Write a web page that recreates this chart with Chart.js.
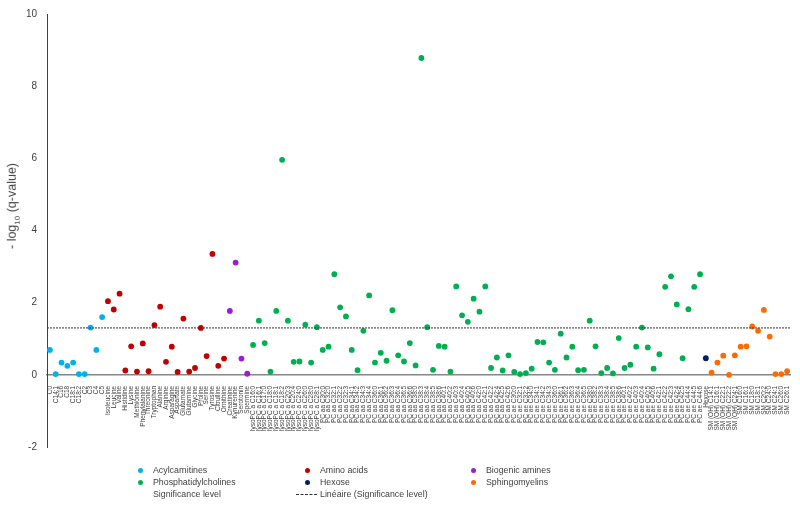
<!DOCTYPE html>
<html>
<head>
<meta charset="utf-8">
<script src="https://cdn.jsdelivr.net/npm/chart.js@4.4.1/dist/chart.umd.min.js"></script>
<style>
  html, body { margin: 0; padding: 0; background: #fff; }
  #wrap { position: relative; width: 800px; height: 509px; font-family: "Liberation Sans", Arial, sans-serif; color: #404040; }
  #chart { position: absolute; left: 0; top: 0; }
  .ytitle { position: absolute; left: 13px; top: 206px; transform: translate(-50%, -50%) rotate(-90deg); font-size: 12.5px; white-space: nowrap; }
  .ytitle sub { font-size: 8px; }
  .lg { position: absolute; font-size: 8.8px; line-height: 12px; white-space: nowrap; }
  .dot { position: absolute; width: 5px; height: 5px; border-radius: 50%; }
  .dash { position: absolute; width: 21px; border-top: 1px dashed #333; }
</style>
</head>
<body>
<div id="wrap">
  <canvas id="chart" width="800" height="509"></canvas>
  <div class="ytitle">- log<sub>10</sub> (q-value)</div>
  <div id="legend"></div>
</div>
<script>
// metabolite names per class (x categories)
const acylLabels = ['C0', 'C14:1', 'C16', 'C18', 'C18:1', 'C18:2', 'C2', 'C3', 'C4', 'C5'];
const aminoLabels = ['Isoleucine', 'Leucine', 'Valine', 'Histidine', 'Lysine', 'Methionine', 'Phenylalanine',
    'Threonine', 'Tryptophan', 'Alanine', 'Arginine', 'Asparagine', 'Aspartate', 'Glutamate', 'Glutamine',
    'Glycine', 'Proline', 'Serine', 'Tyrosine', 'Citrulline', 'Ornithine'];
const amineLabels = ['Creatinine', 'Kynurenine', 'Serotonin', 'Spermine'];
const pcLabels = [
    'lysoPC a C16:0', 'lysoPC a C16:1', 'lysoPC a C17:0', 'lysoPC a C18:0', 'lysoPC a C18:1', 'lysoPC a C18:2',
    'lysoPC a C20:3', 'lysoPC a C20:4', 'lysoPC a C24:0', 'lysoPC a C26:0', 'lysoPC a C28:0', 'lysoPC a C28:1',
    'PC aa C30:0', 'PC aa C32:0', 'PC aa C32:1', 'PC aa C32:2', 'PC aa C32:3', 'PC aa C34:1', 'PC aa C34:2',
    'PC aa C34:3', 'PC aa C34:4', 'PC aa C36:0', 'PC aa C36:1', 'PC aa C36:2', 'PC aa C36:3', 'PC aa C36:4',
    'PC aa C36:5', 'PC aa C36:6', 'PC aa C38:0', 'PC aa C38:3', 'PC aa C38:4', 'PC aa C38:5', 'PC aa C38:6',
    'PC aa C40:1', 'PC aa C40:2', 'PC aa C40:3', 'PC aa C40:4', 'PC aa C40:5', 'PC aa C40:6', 'PC aa C42:0',
    'PC aa C42:1', 'PC aa C42:2', 'PC aa C42:4', 'PC aa C42:5', 'PC aa C42:6',
    'PC ae C30:0', 'PC ae C32:1', 'PC ae C32:2', 'PC ae C34:0', 'PC ae C34:1', 'PC ae C34:2', 'PC ae C34:3',
    'PC ae C36:0', 'PC ae C36:1', 'PC ae C36:2', 'PC ae C36:3', 'PC ae C36:4', 'PC ae C36:5', 'PC ae C38:0',
    'PC ae C38:2', 'PC ae C38:3', 'PC ae C38:4', 'PC ae C38:5', 'PC ae C38:6', 'PC ae C40:1', 'PC ae C40:2',
    'PC ae C40:3', 'PC ae C40:4', 'PC ae C40:5', 'PC ae C40:6', 'PC ae C42:1', 'PC ae C42:2', 'PC ae C42:3',
    'PC ae C42:4', 'PC ae C42:5', 'PC ae C44:4', 'PC ae C44:5', 'PC ae C44:6'];
const hexoseLabels = ['Hexose'];
const smLabels = ['SM (OH) C14:1', 'SM (OH) C16:1', 'SM (OH) C22:1', 'SM (OH) C22:2', 'SM (OH) C24:1',
    'SM C16:0', 'SM C16:1', 'SM C18:0', 'SM C18:1', 'SM C20:2', 'SM C24:0', 'SM C24:1', 'SM C26:0', 'SM C26:1'];

// -log10(q-value) per metabolite
const acylValues = [0.69, 0.02, 0.34, 0.25, 0.34, 0.02, 0.02, 1.31, 0.69, 1.60];
const aminoValues = [2.04, 1.81, 2.25, 0.12, 0.79, 0.09, 0.87, 0.10, 1.38, 1.89, 0.36, 0.78, 0.08, 1.56,
    0.09, 0.19, 1.30, 0.52, 3.35, 0.25, 0.45];
const amineValues = [1.77, 3.11, 0.45, 0.03];
const pcValues = [
    0.83, 1.50, 0.88, 0.09, 1.77, 5.96, 1.50, 0.36, 0.37, 1.39, 0.34, 1.32, 0.69, 0.78, 2.79, 1.87, 1.62,
    0.69, 0.13, 1.22, 2.20, 0.34, 0.61, 0.39, 1.79, 0.54, 0.37, 0.88, 0.26, 8.78, 1.32, 0.14, 0.80,
    0.78, 0.09, 2.45, 1.65, 1.47, 2.11, 1.75, 2.45, 0.19, 0.48, 0.12, 0.54, 0.08, 0.02, 0.05, 0.17,
    0.91, 0.90, 0.34, 0.14, 1.14, 0.48, 0.78, 0.13, 0.14, 1.50, 0.79, 0.05, 0.19, 0.04, 1.02,
    0.19, 0.28, 0.78, 1.31, 0.76, 0.17, 0.57, 2.44, 2.73, 1.95, 0.46, 1.82, 2.44, 2.79];
const hexoseValues = [0.46];
const smValues = [0.06, 0.34, 0.53, 0.00, 0.54, 0.78, 0.79, 1.34, 1.22, 1.80, 1.06, 0.02, 0.02, 0.10];

const significance = 1.3; // -log10(0.05)
const yTicks = { min: -2, max: 10, step: 2 };

const groups = [
    { name: 'Acylcarnitines', color: '#00b0f0', labels: acylLabels, values: acylValues },
    { name: 'Amino acids', color: '#c00000', labels: aminoLabels, values: aminoValues },
    { name: 'Biogenic amines', color: '#9b1dd3', labels: amineLabels, values: amineValues },
    { name: 'Phosphatidylcholines', color: '#00b050', labels: pcLabels, values: pcValues },
    { name: 'Hexose', color: '#002060', labels: hexoseLabels, values: hexoseValues },
    { name: 'Sphingomyelins', color: '#ff6a00', labels: smLabels, values: smValues }
];

const allLabels = groups.flatMap(g => g.labels);
const fontFamily = "'Liberation Sans', Arial, sans-serif";

const datasets = [{
    label: 'Linéaire (Significance level)',
    xAxisID: 'x2',
    data: [{ x: 0, y: significance }, { x: 1, y: significance }],
    borderColor: '#333',
    borderWidth: 1,
    borderDash: [2, 1],
    pointRadius: 0,
    order: 0
}];
groups.forEach(g => {
    datasets.push({
        label: g.name,
        data: g.labels.map((l, i) => ({ x: l, y: g.values[i] })),
        showLine: false,
        pointRadius: 2.9,
        pointBorderWidth: 0,
        pointBackgroundColor: g.color,
        borderColor: g.color,
        order: 1
    });
});

new Chart(document.getElementById('chart').getContext('2d'), {
    type: 'line',
    data: { labels: allLabels, datasets },
    options: {
        responsive: false,
        animation: false,
        layout: { padding: { top: 14, right: 10, bottom: 62, left: 0 } },
        plugins: { legend: { display: false }, tooltip: { enabled: false } },
        scales: {
            x: {
                type: 'category',
                position: { y: 0 },
                offset: true,
                grid: { display: false },
                border: { color: '#868686', width: 1.5 },
                ticks: {
                    autoSkip: false, minRotation: 90, maxRotation: 90, padding: 3,
                    color: '#404040', font: { family: fontFamily, size: 6.5 }
                }
            },
            x2: { type: 'linear', min: 0, max: 1, display: false },
            y: {
                min: yTicks.min, max: yTicks.max,
                grid: { display: false },
                border: { color: '#404040', width: 1 },
                ticks: { stepSize: yTicks.step, padding: 2, color: '#404040', font: { family: fontFamily, size: 10 } },
                afterFit: scale => { scale.width = 47; }
            }
        }
    }
});

// legend laid out in three columns like the original
const legend = document.getElementById('legend');
const colX = [140, 307, 473];
const rowY = [470, 482, 494];
groups.forEach((g, i) => {
    const cx = colX[i % 3], cy = rowY[Math.floor(i / 3)];
    legend.insertAdjacentHTML('beforeend',
        `<div class="dot" style="left:${cx - 2.5}px;top:${cy - 2.5}px;background:${g.color}"></div>` +
        `<div class="lg" style="left:${cx + 13}px;top:${cy - 6}px">${g.name}</div>`);
});
legend.insertAdjacentHTML('beforeend',
    `<div class="lg" style="left:${colX[0] + 13}px;top:${rowY[2] - 6}px">Significance level</div>` +
    `<div class="dash" style="left:${colX[1] - 11}px;top:${rowY[2]}px"></div>` +
    `<div class="lg" style="left:${colX[1] + 13}px;top:${rowY[2] - 6}px">Linéaire (Significance level)</div>`);
</script>
</body>
</html>
